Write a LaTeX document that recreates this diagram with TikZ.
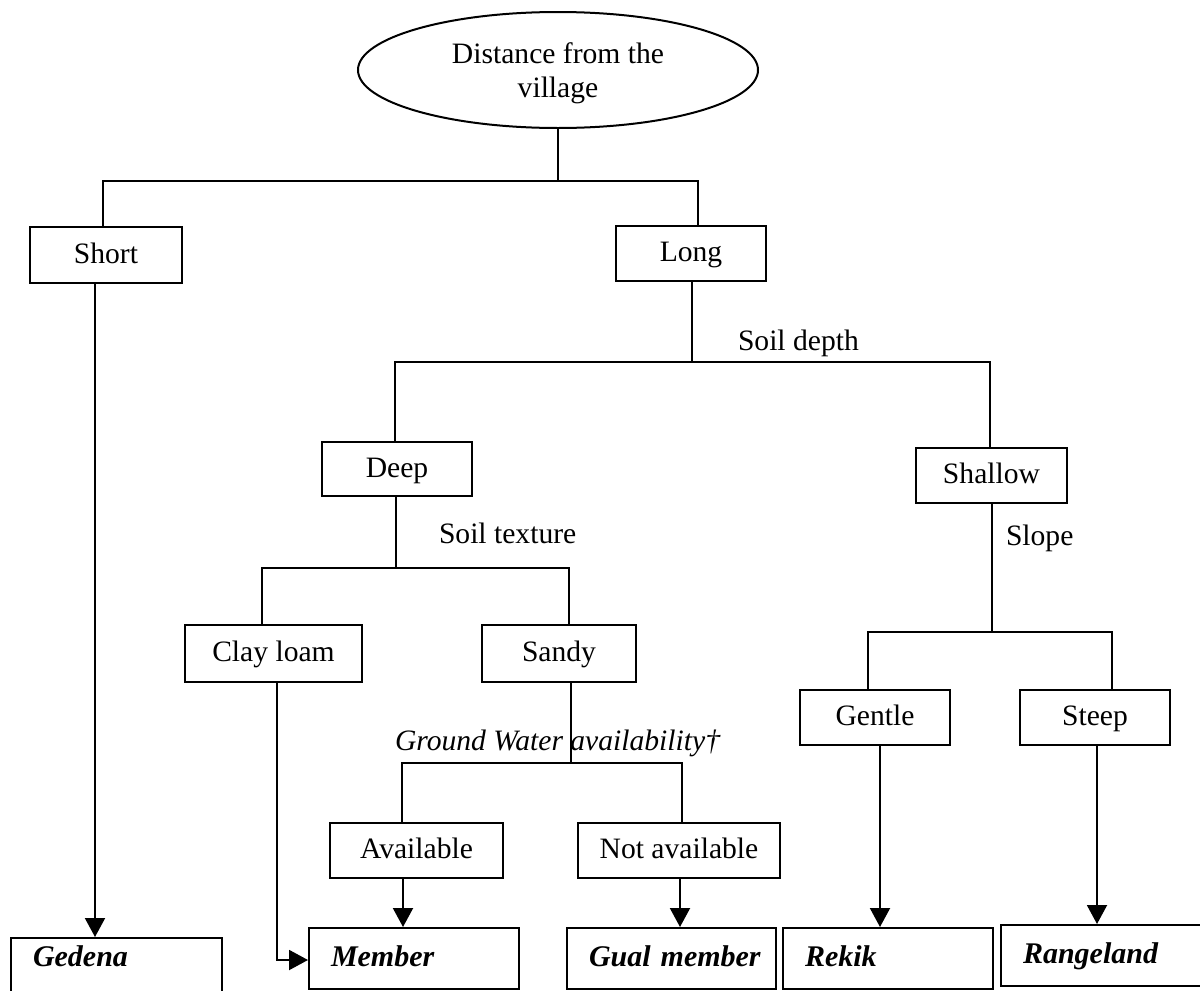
\documentclass[tikz,border=0pt]{standalone}
\usepackage{fontspec}
\setmainfont{Liberation Serif}
\usetikzlibrary{arrows.meta,shapes.geometric}

\begin{document}
\begin{tikzpicture}[x=0.5pt,y=-0.5pt,line width=1pt,
  txt/.style={font=\fontsize{14.8}{17}\selectfont},
  box/.style={txt,draw,rectangle,inner sep=0pt,text height=0.82em,text depth=0pt},
  leaf/.style={draw,rectangle,font=\fontsize{15}{17}\selectfont\bfseries\itshape,
    inner xsep=11pt,inner ysep=0pt,align=left,anchor=north west,
    text height=19pt,text depth=11.5pt},
  lbl/.style={txt,inner sep=0pt,anchor=base west},
  lblit/.style={lbl,font=\fontsize{14.8}{17}\selectfont\itshape},
  arr/.style={-{Triangle[length=9.5pt,width=10pt]}}]

\useasboundingbox (0,0) rectangle (1200,991);
\fill[white] (0,0) rectangle (1200,991);
\clip (0,0) rectangle (1200,991);

% root question
\node[txt,draw,ellipse,minimum width=200pt,minimum height=58pt,inner sep=0pt,
  align=center,text depth=0pt] (root) at (558,70) {Distance from the\\village};

% decision boxes
\node[box,minimum width=76pt,minimum height=28pt] (short) at (106,255) {Short};
\node[box,minimum width=75pt,minimum height=27.5pt] (long) at (691,253.5) {Long};
\node[box,minimum width=75pt,minimum height=27pt] (deep) at (397,469) {Deep};
\node[box,minimum width=75.5pt,minimum height=27.5pt] (shallow) at (991.5,475.5) {Shallow};
\node[box,minimum width=88.5pt,minimum height=28.5pt] (clay) at (273.5,653.5) {Clay loam};
\node[box,minimum width=77pt,minimum height=28.5pt] (sandy) at (559,653.5) {Sandy};
\node[box,minimum width=75pt,minimum height=27.5pt] (gentle) at (875,717.5) {Gentle};
\node[box,minimum width=75pt,minimum height=27.5pt] (steep) at (1095,717.5) {Steep};
\node[box,minimum width=86.5pt,minimum height=27.5pt] (avail) at (416.5,850.5) {Available};
\node[box,minimum width=101pt,minimum height=27.5pt] (notavail) at (679,850.5) {Not available};

% land-use classes
\node[leaf,text width=83.5pt,text height=14pt,text depth=30pt] (gedena) at (10,937) {\mbox{Gedena}};
\node[leaf,text width=83pt] (member) at (308,927) {\mbox{Member}};
\node[leaf,text width=82.5pt] (gual) at (566,927) {\mbox{Gual member}};
\node[leaf,text width=83pt] (rekik) at (782,927) {\mbox{Rekik}};
\node[leaf,text width=88pt] (range) at (1000,924) {\mbox{Rangeland}};

% criteria labels
\node[lbl] (sdepth) at (737,350) {Soil depth};
\node[lbl] (stex) at (438,543) {Soil texture};
\node[lbl] (slope) at (1005,545) {Slope};
\node[lblit] (gw) at (394,750) {Ground Water availability†};

% branches
\coordinate (j0) at (558,181);
\draw (root.south) -- (j0);
\draw (short.north -| 103,0) |- (j0) -| (long.north -| 698,0);

\coordinate (j1) at (692,362);
\draw (long.south -| j1) -- (j1);
\draw (deep.north -| 395,0) |- (j1) -| (shallow.north -| 990,0);

\coordinate (j2) at (396,568);
\draw (deep.south -| j2) -- (j2);
\draw (clay.north -| 262,0) |- (j2) -| (sandy.north -| 569,0);

\coordinate (j3) at (992,632);
\draw (shallow.south -| j3) -- (j3);
\draw (gentle.north -| 868,0) |- (j3) -| (steep.north -| 1112,0);

\coordinate (j4) at (571,763);
\draw (sandy.south -| j4) -- (j4);
\draw (avail.north -| 402,0) |- (j4) -| (notavail.north -| 682,0);

% outcomes
\draw[arr] (short.south -| 95,0) -- (gedena.north -| 95,0);
\coordinate (bend) at (277,960);
\draw[arr] (clay.south -| bend) |- (member.west |- bend);
\draw[arr] (avail.south -| 403,0) -- (member.north -| 403,0);
\draw[arr] (notavail.south -| 680,0) -- (gual.north -| 680,0);
\draw[arr] (gentle.south -| 880,0) -- (rekik.north -| 880,0);
\draw[arr] (steep.south -| 1097,0) -- (range.north -| 1097,0);
\end{tikzpicture}
\end{document}
